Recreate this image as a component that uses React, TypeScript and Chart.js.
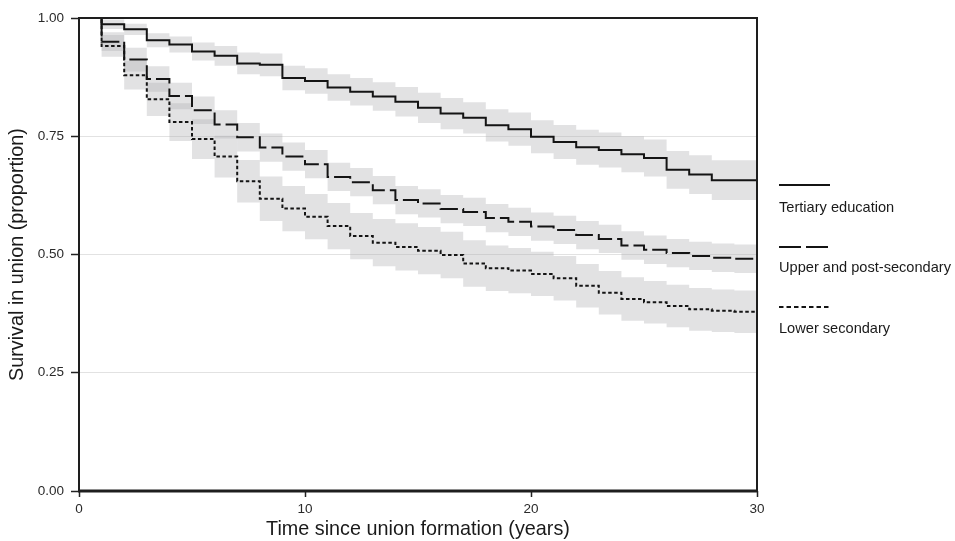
import { useEffect, useRef } from "react";
import { Chart, registerables } from "chart.js";

Chart.register(...registerables);

// ---- Data ----
const years: number[] = [0, 1, 2, 3, 4, 5, 6, 7, 8, 9, 10, 11, 12, 13, 14, 15, 16, 17, 18, 19, 20, 21, 22, 23, 24, 25, 26, 27, 28, 29];
const xEnd = 30;

const tertiary: number[] = [1.0, 0.987, 0.976, 0.953, 0.944, 0.929, 0.92, 0.904, 0.901, 0.873, 0.867, 0.853, 0.844, 0.834, 0.823, 0.81, 0.798, 0.789, 0.773, 0.765, 0.749, 0.738, 0.727, 0.721, 0.712, 0.704, 0.679, 0.669, 0.657, 0.657];
const upperSecondary: number[] = [1.0, 0.95, 0.912, 0.871, 0.835, 0.805, 0.775, 0.748, 0.726, 0.707, 0.691, 0.664, 0.653, 0.636, 0.615, 0.608, 0.596, 0.59, 0.577, 0.569, 0.559, 0.552, 0.541, 0.533, 0.519, 0.51, 0.503, 0.497, 0.493, 0.491];
const lowerSecondary: number[] = [1.0, 0.941, 0.879, 0.828, 0.78, 0.744, 0.707, 0.655, 0.618, 0.597, 0.58, 0.56, 0.539, 0.525, 0.516, 0.508, 0.499, 0.481, 0.471, 0.466, 0.459, 0.45, 0.434, 0.419, 0.406, 0.399, 0.391, 0.384, 0.381, 0.379];

// half-widths of the 95% confidence bands
const tertiaryCI: number[] = [0, 0.01, 0.012, 0.015, 0.017, 0.019, 0.021, 0.023, 0.024, 0.026, 0.027, 0.028, 0.029, 0.03, 0.031, 0.032, 0.033, 0.033, 0.034, 0.035, 0.035, 0.036, 0.037, 0.037, 0.038, 0.039, 0.04, 0.041, 0.042, 0.042];
const upperSecondaryCI: number[] = [0, 0.02, 0.025, 0.027, 0.028, 0.029, 0.03, 0.03, 0.03, 0.03, 0.03, 0.03, 0.03, 0.03, 0.03, 0.03, 0.03, 0.03, 0.03, 0.03, 0.03, 0.03, 0.03, 0.03, 0.03, 0.03, 0.03, 0.03, 0.03, 0.03];
const lowerSecondaryCI: number[] = [0, 0.023, 0.03, 0.035, 0.04, 0.042, 0.044, 0.045, 0.047, 0.048, 0.048, 0.049, 0.049, 0.05, 0.05, 0.05, 0.049, 0.049, 0.048, 0.048, 0.047, 0.047, 0.046, 0.046, 0.046, 0.045, 0.045, 0.045, 0.045, 0.045];

const seriesLabels: string[] = ["Tertiary education", "Upper and post-secondary", "Lower secondary"];
const xTicks: number[] = [0, 10, 20, 30];
const yTicks: number[] = [0, 0.25, 0.5, 0.75, 1.0];
const xTitle = "Time since union formation (years)";
const yTitle = "Survival in union (proportion)";

const FONT = "'Liberation Sans', Arial, Helvetica, sans-serif";
const LINE_COLOR = "#141414";
const BAND_COLOR = "rgba(175,175,178,0.36)";
const dashes: number[][] = [[], [18, 5], [3.5, 2.5]];
const legendDashes: number[][] = [[], [22, 5], [4.5, 3]];

function toPoints(vals: number[]) {
  const pts = years.map((t, i) => ({ x: t, y: vals[i] }));
  pts.push({ x: xEnd, y: vals[vals.length - 1] });
  return pts;
}
function band(vals: number[], hw: number[], sign: number) {
  return toPoints(vals.map((v, i) => Math.max(0, Math.min(1, v + sign * hw[i]))));
}

const framePlugin = {
  id: "frame",
  afterDatasetsDraw(chart: any) {
    const { ctx, chartArea: ca } = chart;
    ctx.save();
    ctx.strokeStyle = "#1e1e1e";
    ctx.lineWidth = 2;
    ctx.strokeRect(ca.left, ca.top, ca.right - ca.left, ca.bottom - ca.top);
    ctx.lineWidth = 3;
    ctx.beginPath();
    ctx.moveTo(ca.left - 1, ca.bottom);
    ctx.lineTo(ca.right + 1, ca.bottom);
    ctx.stroke();
    ctx.restore();
  },
};

const legendPlugin = {
  id: "customLegend",
  afterDraw(chart: any) {
    const { ctx, chartArea: ca } = chart;
    const x0 = ca.right + 22;
    const x1 = ca.right + 73;
    const rowLineY = [185, 247, 307];
    const rowTextY = [208, 268, 329];
    ctx.save();
    seriesLabels.forEach((label, i) => {
      ctx.strokeStyle = LINE_COLOR;
      ctx.lineWidth = 2;
      ctx.setLineDash(legendDashes[i]);
      ctx.beginPath();
      ctx.moveTo(x0, rowLineY[i]);
      ctx.lineTo(x1, rowLineY[i]);
      ctx.stroke();
      ctx.setLineDash([]);
      ctx.fillStyle = "#1a1a1a";
      ctx.font = `14.6px ${FONT}`;
      ctx.textBaseline = "middle";
      ctx.textAlign = "left";
      ctx.fillText(label, x0, rowTextY[i]);
    });
    ctx.restore();
  },
};

export default function App() {
  const canvasRef = useRef<HTMLCanvasElement | null>(null);

  useEffect(() => {
    if (!canvasRef.current) return;
    const series = [tertiary, upperSecondary, lowerSecondary];
    const cis = [tertiaryCI, upperSecondaryCI, lowerSecondaryCI];

    const bandSets: any[] = [];
    series.forEach((vals, i) => {
      bandSets.push({
        label: `${seriesLabels[i]} upper`,
        data: band(vals, cis[i], 1),
        stepped: "before",
        borderWidth: 0,
        borderColor: "rgba(0,0,0,0)",
        pointRadius: 0,
        fill: false,
      });
      bandSets.push({
        label: `${seriesLabels[i]} lower`,
        data: band(vals, cis[i], -1),
        stepped: "before",
        borderWidth: 0,
        borderColor: "rgba(0,0,0,0)",
        backgroundColor: BAND_COLOR,
        pointRadius: 0,
        fill: "-1",
      });
    });
    const lineSets = series.map((vals, i) => ({
      label: seriesLabels[i],
      data: toPoints(vals),
      stepped: "before",
      borderColor: LINE_COLOR,
      borderWidth: 2,
      borderDash: dashes[i],
      pointRadius: 0,
      fill: false,
    }));

    const chart = new Chart(canvasRef.current, {
      type: "line",
      data: { datasets: [...bandSets, ...lineSets] as any },
      options: {
        animation: false,
        responsive: false,
        devicePixelRatio: 1,
        layout: { padding: { top: 18, right: 198, left: 0, bottom: 0 } },
        plugins: {
          legend: { display: false },
          tooltip: { enabled: false },
          filler: { drawTime: "beforeDatasetsDraw" } as any,
        },
        scales: {
          x: {
            type: "linear",
            min: 0,
            max: xEnd,
            afterFit: (s: any) => {
              s.height = 50;
            },
            afterBuildTicks: (s: any) => {
              s.ticks = xTicks.map((v) => ({ value: v }));
            },
            ticks: {
              font: { family: FONT, size: 13.5 },
              color: "#2a2a2a",
              padding: 4,
              maxRotation: 0,
              callback: (v: any) => String(v),
            },
            grid: {
              drawOnChartArea: false,
              drawTicks: true,
              tickLength: 6,
              tickColor: "#222",
              tickWidth: 1.5,
            },
            border: { display: false },
            title: {
              display: true,
              text: xTitle,
              font: { family: FONT, size: 19.8 },
              color: "#1a1a1a",
              padding: { top: 0, bottom: 0 },
            },
          },
          y: {
            type: "linear",
            min: 0,
            max: 1,
            afterFit: (s: any) => {
              s.width = 79;
            },
            afterBuildTicks: (s: any) => {
              s.ticks = yTicks.map((v) => ({ value: v }));
            },
            ticks: {
              font: { family: FONT, size: 13.5 },
              color: "#2a2a2a",
              padding: 7,
              callback: (v: any) => Number(v).toFixed(2),
            },
            grid: {
              color: (c: any) =>
                c.tick && (c.tick.value === 0 || c.tick.value === 1) ? "rgba(0,0,0,0)" : "#e2e2e2",
              lineWidth: 1,
              drawTicks: true,
              tickLength: 8,
              tickColor: "#222",
              tickWidth: 1.5,
            },
            border: { display: false },
            title: {
              display: true,
              text: yTitle,
              font: { family: FONT, size: 19.8 },
              color: "#1a1a1a",
              padding: { top: 6, bottom: 0 },
            },
          },
        },
      },
      plugins: [framePlugin, legendPlugin],
    });

    return () => chart.destroy();
  }, []);

  return (
    <div style={{ position: "absolute", left: 0, top: 0, width: 955, height: 541, background: "#fff" }}>
      <canvas ref={canvasRef} width={955} height={541} style={{ display: "block" }} />
    </div>
  );
}
